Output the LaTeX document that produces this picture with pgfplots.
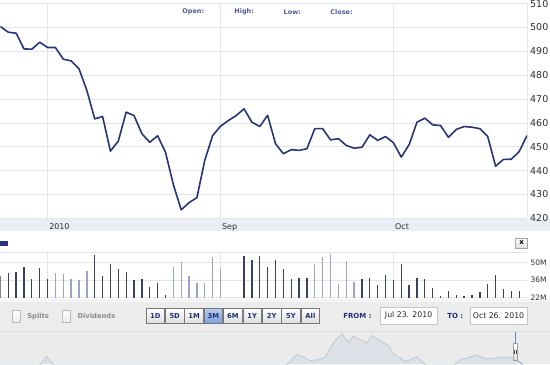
\documentclass[border=0pt]{standalone}
\usepackage{pgfplots}
\pgfplotsset{compat=1.18}
\usepackage{fontspec}
\setmainfont{DejaVu Sans}
\definecolor{gridc}{RGB}{228,228,234}
\definecolor{pricec}{RGB}{38,52,122}
\definecolor{bandc}{RGB}{236,238,245}
\definecolor{darkbar}{RGB}{58,66,100}
\definecolor{lightbar}{RGB}{155,163,202}
\definecolor{labc}{RGB}{45,45,55}
\definecolor{hdrc}{RGB}{78,92,150}
\definecolor{ctrlbg}{RGB}{236,236,236}
\definecolor{ctrltop}{RGB}{244,244,244}
\definecolor{navbg}{RGB}{235,235,235}
\definecolor{navfill}{RGB}{220,224,231}
\definecolor{navline}{RGB}{196,202,214}
\definecolor{btnnavy}{RGB}{30,50,115}
\definecolor{btnblue}{RGB}{120,160,225}
\definecolor{btnbluetop}{RGB}{185,205,240}
\definecolor{btngray}{RGB}{220,220,220}
\definecolor{btnborder}{RGB}{120,120,120}
\definecolor{chkgray}{RGB}{140,140,140}
\definecolor{handleblue}{RGB}{80,140,220}

\pgfplotstableread{
i v
0 500.4
1 498.0
2 497.6
3 491.0
4 490.9
5 493.8
6 491.6
7 491.6
8 486.7
9 486.0
10 482.7
11 473.6
12 461.7
13 462.7
14 448.2
15 452.4
16 464.5
17 463.1
18 455.5
19 451.9
20 454.6
21 447.8
22 434.2
23 423.6
24 426.6
25 428.7
26 444.3
27 454.7
28 458.6
29 461.0
30 463.1
31 465.9
32 460.3
33 458.5
34 463.2
35 451.3
36 447.1
37 448.8
38 448.5
39 449.2
40 457.6
41 457.6
42 452.9
43 453.4
44 450.6
45 449.4
46 449.8
47 455.0
48 452.7
49 454.3
50 451.7
51 445.7
52 450.9
53 460.3
54 462.0
55 459.2
56 458.9
57 454.0
58 457.3
59 458.5
60 458.2
61 457.6
62 454.3
63 441.9
64 444.7
65 444.8
66 448.0
67 454.7
}\pricetable

\pgfplotstableread{
i v
0 39.3
1 41.7
2 42.5
3 46.2
4 37.2
5 45.4
6 37.2
12 55.8
13 39.0
14 49.2
15 45.2
16 42.2
17 36.4
18 36.9
19 30.8
20 33.7
21 24.4
31 55.0
32 52.4
33 55.0
34 46.8
35 52.1
36 45.2
37 37.2
38 37.7
39 37.7
46 36.6
47 38.0
48 32.4
49 39.8
50 35.8
51 49.2
52 32.4
53 37.7
54 36.9
55 30.0
56 23.0
57 27.3
58 23.8
59 23.0
60 23.8
61 26.5
62 33.2
63 40.4
64 28.6
65 27.3
66 27.3
}\darkvol

\pgfplotstableread{
i v
7 41.4
8 40.6
9 36.9
10 36.1
11 43.0
22 46.8
23 50.2
24 39.0
25 33.7
26 33.7
27 54.5
28 46.0
40 49.2
41 54.5
42 56.6
43 32.9
44 51.6
45 34.5
}\lightvol

\pgfplotstableread{
x v
0 -5
35 -5
40 0
46 7.7
53 0
58 -5
282 -5
286.7 0
296.7 9.7
303 7.5
310 3.7
318 4.5
325 7
333.3 22
341.7 30.3
348.3 22
353.3 28
361.7 23.7
366.7 21.3
371.7 28.7
380 23.7
388.3 18.7
393.3 10.3
399 7
405 2.7
411 5
416.7 7.7
425 0
430 -5
450 -5
455 0
460 4.7
468 6.5
476.7 9.3
486.7 5.3
496 6.5
506.7 7
513.3 6
517 4
}\navtable

\begin{document}
\begin{tikzpicture}
\begin{scope}[x=1bp,y=1bp]
\path[use as bounding box] (0,0) rectangle (550,-364);
\fill[white] (0,0) rectangle (550,-364);
% x-axis band
\fill[bandc] (0,-218.3) rectangle (550,-230.5);
% control band
\fill[ctrlbg] (0,-298.7) rectangle (550,-331.3);
\fill[ctrltop] (0,-298.7) rectangle (550,-301.5);
\fill[navbg] (0,-331.3) rectangle (550,-364);
\draw[gray!25,line width=0.6] (0,-331.3) -- (550,-331.3);
\end{scope}

% main price axis
\begin{axis}[
  at={(0bp,-3bp)}, anchor=north west,
  width=527bp, height=215bp, scale only axis,
  xmin=0, xmax=67, ymin=420, ymax=510,
  axis line style={draw=none},
  tick style={draw=none},
  ytick={420,430,...,510},
  yticklabel pos=right,
  /pgf/number format/assume math mode=true,
  yticklabel style={anchor=west, inner sep=0pt, xshift=3bp,
     font=\fontsize{9.5}{10}\selectfont, text=labc},
  xtick={6,28,50}, xticklabels={2010,Sep,Oct},
  xticklabel style={anchor=north west, inner sep=0pt, xshift=1.5bp, yshift=-5.3bp,
     font=\fontsize{8}{9}\selectfont, text=labc},
  extra x ticks={67}, extra x tick labels={},
  extra x tick style={grid=major},
  grid=major,
  major grid style={draw=gridc, line width=0.8bp},
]
\addplot[pricec, line width=1.6bp, line join=round] table[x=i,y=v] {\pricetable};
\end{axis}

% volume axis
\begin{axis}[
  at={(0bp,-252.3bp)}, anchor=north west,
  width=527bp, height=45bp, scale only axis,
  xmin=0, xmax=67, ymin=22, ymax=58,
  axis line style={draw=none},
  tick style={draw=none},
  ytick={22,36,50}, yticklabels={22M,36M,50M},
  yticklabel pos=right,
  yticklabel style={anchor=west, inner sep=0pt, xshift=3.5bp,
     font=\fontsize{7.5}{8}\selectfont, text=labc},
  xtick={6,28,50}, xticklabels={},
  extra y ticks={58}, extra y tick labels={},
  extra y tick style={grid=major},
  grid=major,
  major grid style={draw=gridc, line width=0.8bp},
]
\addplot[ycomb, draw=darkbar, line width=1.3bp] table[x=i,y=v] {\darkvol};
\addplot[ycomb, draw=lightbar, line width=1.3bp] table[x=i,y=v] {\lightvol};
\end{axis}

% navigator axis
\begin{axis}[
  at={(0bp,-331.3bp)}, anchor=north west,
  width=550bp, height=32.7bp, scale only axis,
  xmin=0, xmax=550, ymin=0, ymax=32.7,
  hide axis,
]
\addplot[fill=navfill, draw=none] table[x=x,y=v] {\navtable} \closedcycle;
\addplot[draw=navline, line width=0.9bp] table[x=x,y=v] {\navtable};
\end{axis}

\begin{scope}[x=1bp,y=1bp]
% header labels
\foreach \t/\xx in {Open:/182,High:/234,Low:/283.3,Close:/330}{
  \node[anchor=west, inner sep=0pt, text=hdrc, font=\bfseries\fontsize{6.5}{7}\selectfont] at (\xx,-11.5) {\t};
}
% small blue marker
\fill[pricec] (0,-241) rectangle (7.3,-245.7);
% x button
\shadedraw[top color=white, bottom color=btngray, draw=gray!70, line width=0.6] (515.7,-237.7) rectangle (527.3,-248.3);
\node[inner sep=0pt, font=\bfseries\fontsize{7}{7}\selectfont] at (521.5,-242.6) {x};
% checkboxes
\shadedraw[top color=white, bottom color=gray!15, draw=gray!55, line width=0.6] (11.7,-310) rectangle (20,-321.7);
\node[anchor=west, inner sep=0pt, text=chkgray, font=\bfseries\fontsize{6.8}{7}\selectfont] at (26.7,-315.8) {Splits};
\shadedraw[top color=white, bottom color=gray!15, draw=gray!55, line width=0.6] (61.7,-310) rectangle (70,-321.7);
\node[anchor=west, inner sep=0pt, text=chkgray, font=\bfseries\fontsize{6.8}{7}\selectfont] at (77,-315.8) {Dividends};
% range buttons
\foreach \l [count=\i from 0] in {1D,5D,1M,3M,6M,1Y,2Y,5Y,All}{
  \pgfmathsetmacro\xa{145.7+19.4*\i}
  \pgfmathsetmacro\xb{\xa+18.6}
  \pgfmathsetmacro\xc{\xa+9.3}
  \ifnum\i=3
    \shadedraw[top color=btnbluetop, bottom color=btnblue, draw=btnborder, line width=0.6] (\xa,-307.7) rectangle (\xb,-323.3);
  \else
    \shadedraw[top color=white, bottom color=btngray, draw=btnborder, line width=0.6] (\xa,-307.7) rectangle (\xb,-323.3);
  \fi
  \node[inner sep=0pt, text=btnnavy, font=\bfseries\fontsize{6.8}{7}\selectfont] at (\xc,-315.5) {\l};
}
% from / to
\node[anchor=west, inner sep=0pt, text=btnnavy, font=\bfseries\fontsize{7}{7}\selectfont] at (343,-315.6) {FROM :};
\draw[fill=white, draw=gray!45, line width=0.6] (380,-306.7) rectangle (437,-324);
\node[inner sep=0pt, font=\fontsize{7.8}{8}\selectfont, text=black!85] at (408.5,-315.4) {Jul 23. 2010};
\node[anchor=west, inner sep=0pt, text=btnnavy, font=\bfseries\fontsize{7}{7}\selectfont] at (447,-315.6) {TO :};
\draw[fill=white, draw=gray!45, line width=0.6] (470,-306.7) rectangle (527,-324);
\node[inner sep=0pt, font=\fontsize{7.8}{8}\selectfont, text=black!85] at (498.5,-315.4) {Oct 26. 2010};
% navigator handle
\draw[handleblue, line width=0.9] (515.3,-331.3) -- (515.3,-343);
\shadedraw[top color=white, bottom color=btngray, draw=gray!75, line width=0.5] (513.3,-343) rectangle (517.3,-360);
\draw[black!70, line width=0.4] (514.6,-349.5) -- (514.6,-353.5) (516.0,-349.5) -- (516.0,-353.5);
\draw[handleblue!80, line width=0.9] (517.3,-360.5) -- (523,-364);
\end{scope}
\end{tikzpicture}
\end{document}
